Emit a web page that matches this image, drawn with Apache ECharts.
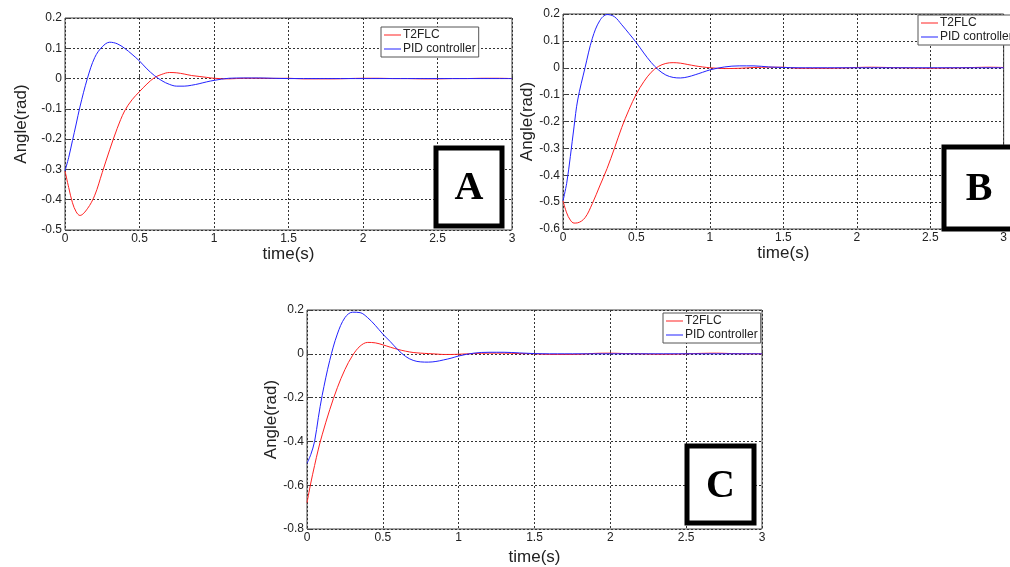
<!DOCTYPE html>
<html><head><meta charset="utf-8">
<script src="https://cdn.jsdelivr.net/npm/echarts@6/dist/echarts.min.js"></script>
<style>html,body{margin:0;padding:0;background:#fff}#c{width:1010px;height:567px}</style>
</head><body><div id="c"></div>
<script>
const times = [0,0.025,0.05,0.075,0.1,0.15,0.2,0.25,0.3,0.35,0.4,0.45,0.5,0.55,0.6,0.65,0.7,0.75,0.8,0.85,0.9,0.95,1.0,1.1,1.2,1.3,1.4,1.5,1.6,1.7,1.8,1.9,2.0,2.1,2.2,2.3,2.4,2.5,2.6,2.7,2.8,2.9,3.0];
const seriesNames = ['T2FLC','PID controller'];
const panelLabels = ['A','B','C'];
const xTicks = {min:0, max:3, interval:0.5};
const yTicksA = {min:-0.5, max:0.2, interval:0.1};
const yTicksB = {min:-0.6, max:0.2, interval:0.1};
const yTicksC = {min:-0.8, max:0.2, interval:0.2};

const t2flcA = [-0.305,-0.36,-0.41,-0.44,-0.452,-0.43,-0.385,-0.31,-0.235,-0.165,-0.107,-0.07,-0.043,-0.018,0.003,0.014,0.02,0.019,0.015,0.01,0.007,0.004,0.001,-0.001,0.001,0.001,0.0005,0.001,-0.001,-0.001,-0.001,0,0.001,0.001,0,0,-0.001,-0.001,0,0,0.001,0.001,0];
const pidA = [-0.305,-0.26,-0.205,-0.15,-0.094,0.0,0.07,0.105,0.12,0.115,0.10,0.08,0.058,0.032,0.01,-0.007,-0.019,-0.025,-0.025,-0.022,-0.017,-0.011,-0.006,0.001,0.002,0.002,0.001,0,0,0,0,0,0,0,0,0,0,0,0,0,0,0,0];

const t2flcB = [-0.495,-0.54,-0.567,-0.578,-0.577,-0.558,-0.505,-0.44,-0.375,-0.30,-0.222,-0.155,-0.097,-0.052,-0.017,0.005,0.016,0.019,0.017,0.012,0.007,0.003,0.0,-0.003,-0.002,0.001,0.002,0.002,-0.002,-0.002,-0.002,-0.001,0.001,0.002,0.001,0,-0.001,-0.002,-0.001,0,0.001,0.002,0.001];
const pidB = [-0.495,-0.43,-0.33,-0.22,-0.12,0.0,0.11,0.175,0.198,0.19,0.16,0.127,0.093,0.055,0.02,-0.008,-0.027,-0.036,-0.038,-0.034,-0.026,-0.017,-0.008,0.003,0.007,0.007,0.003,0.001,0,0,0,0,0,0,0,0,0,0,0,0,0,0,0];

const t2flcC = [-0.68,-0.59,-0.51,-0.435,-0.37,-0.255,-0.155,-0.072,-0.008,0.035,0.052,0.05,0.041,0.03,0.02,0.012,0.006,0.003,0.001,-0.001,-0.003,-0.003,-0.002,0.001,0.003,0.003,0.001,0,-0.003,-0.003,-0.002,0.002,0.003,0.001,0,-0.002,-0.002,0,0.002,0.003,0.001,0,0];
const pidC = [-0.50,-0.46,-0.40,-0.29,-0.19,-0.03,0.09,0.165,0.19,0.188,0.165,0.13,0.09,0.055,0.018,-0.012,-0.03,-0.037,-0.038,-0.035,-0.028,-0.02,-0.01,0.003,0.007,0.007,0.004,0.001,0,0,0,0,0,0,0,0,0,0,0,0,0,0,0];

const panels = [
  {grid:{left:65, top:18, width:447, height:212}, y:yTicksA, red:t2flcA, blue:pidA,
   legend:{left:381, top:27}, box:{x:436, y:148, w:66, h:78}, nameGapY:35, nameGapX:14},
  {grid:{left:563, top:14, width:450, height:215}, y:yTicksB, red:t2flcB, blue:pidB,
   legend:{left:918, top:15}, box:{x:944, y:147, w:70, h:82}, nameGapY:24, nameGapX:13},
  {grid:{left:307, top:310, width:455, height:219}, y:yTicksC, red:t2flcC, blue:pidC,
   legend:{left:663, top:313}, box:{x:687, y:446, w:67, h:77}, nameGapY:24, nameGapX:20}
];

const txt = '#222';
const font = 'Liberation Sans, Arial, sans-serif';
const option = {
  animation:false,
  backgroundColor:'#fff',
  grid: panels.map(p=>Object.assign({show:true, borderColor:'#444', borderWidth:1, backgroundColor:'#fff', containLabel:false}, p.grid)),
  xAxis: panels.map((p,i)=>({
    type:'value', gridIndex:i, min:xTicks.min, max:xTicks.max, interval:xTicks.interval,
    name:'time(s)', nameLocation:'middle', nameGap:p.nameGapX,
    nameTextStyle:{fontSize:17, color:txt, fontFamily:font},
    axisLine:{show:false}, axisTick:{show:true, inside:true, length:4, lineStyle:{color:'#444'}},
    axisLabel:{fontSize:12, color:txt, fontFamily:font, margin:3, showMaxLabel:true, showMinLabel:true},
    splitLine:{show:true, lineStyle:{color:'#333', type:[2,2], width:1}}
  })),
  yAxis: panels.map((p,i)=>({
    type:'value', gridIndex:i, min:p.y.min, max:p.y.max, interval:p.y.interval,
    name:'Angle(rad)', nameLocation:'middle', nameGap:p.nameGapY,
    nameTextStyle:{fontSize:17, color:txt, fontFamily:font},
    axisLine:{show:false}, axisTick:{show:true, inside:true, length:4, lineStyle:{color:'#444'}},
    axisLabel:{fontSize:12, color:txt, fontFamily:font, margin:3},
    splitLine:{show:true, lineStyle:{color:'#333', type:[2,2], width:1}}
  })),
  legend: panels.map(p=>({
    data:seriesNames, orient:'vertical', left:p.legend.left, top:p.legend.top,
    backgroundColor:'#fff', borderColor:'#555', borderWidth:1, padding:[2,3,2,3],
    itemGap:2, itemWidth:17, itemHeight:1, icon:'rect',
    textStyle:{fontSize:12, color:txt, fontFamily:font, padding:[0,0,0,-3]},
    selectedMode:false
  })),
  series: [],
  graphic: []
};
panels.forEach((p,i)=>{
  option.series.push({name:seriesNames[0], type:'line', xAxisIndex:i, yAxisIndex:i, symbol:'none', smooth:0.35,
    lineStyle:{color:'#ff2222', width:1}, itemStyle:{color:'#ff2222'}, z:3,
    data: times.map((t,k)=>[t, p.red[k]])});
  option.series.push({name:seriesNames[1], type:'line', xAxisIndex:i, yAxisIndex:i, symbol:'none', smooth:0.35,
    lineStyle:{color:'#2222ff', width:1}, itemStyle:{color:'#2222ff'}, z:4,
    data: times.map((t,k)=>[t, p.blue[k]])});
  option.graphic.push({type:'rect', z:100, shape:{x:p.box.x, y:p.box.y, width:p.box.w, height:p.box.h},
    style:{fill:'#fff', stroke:'#000', lineWidth:5}});
  option.graphic.push({type:'text', z:101, x:p.box.x+p.box.w/2, y:p.box.y+p.box.h/2+2,
    style:{text:panelLabels[i], fill:'#000', font:'bold 40px "Liberation Serif", "Times New Roman", serif', align:'center', verticalAlign:'middle'}});
});
const chart = echarts.init(document.getElementById('c'), null, {renderer:'canvas'});
chart.setOption(option);
</script>
</body></html>
